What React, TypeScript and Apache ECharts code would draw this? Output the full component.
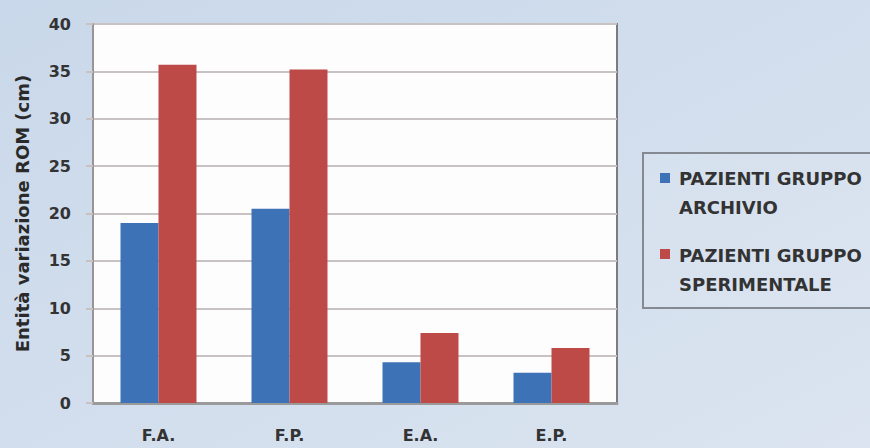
import React, { useEffect, useRef } from "react";
import * as echarts from "echarts";

const categories = ["F.A.", "F.P.", "E.A.", "E.P."];
const seriesNames = ["PAZIENTI GRUPPO ARCHIVIO", "PAZIENTI GRUPPO SPERIMENTALE"];
const legendLines = [
  ["PAZIENTI GRUPPO", "ARCHIVIO"],
  ["PAZIENTI GRUPPO", "SPERIMENTALE"],
];
const archivio = [19.0, 20.5, 4.3, 3.2];
const sperimentale = [35.7, 35.2, 7.4, 5.8];
const colors = ["#3d72b6", "#be4a48"];
const yAxisName = "Entità variazione ROM (cm)";

const FONT = "'DejaVu Sans', sans-serif";

export default function App() {
  const ref = useRef<HTMLDivElement>(null);
  useEffect(() => {
    if (!ref.current) return;
    const chart = echarts.init(ref.current, null, { renderer: "svg" });
    const legendGraphics: any[] = [
      {
        type: "rect",
        x: 643,
        y: 153,
        shape: { x: 0, y: 0, width: 260, height: 155 },
        style: { fill: "rgba(255,255,255,0.08)", stroke: "#858a92", lineWidth: 2 },
      },
    ];
    const squareTops = [173, 249];
    const textTops = [164, 241];
    legendLines.forEach((lines, i) => {
      legendGraphics.push({
        type: "rect",
        x: 660,
        y: squareTops[i],
        shape: { x: 0, y: 0, width: 10, height: 10 },
        style: { fill: colors[i] },
      });
      legendGraphics.push({
        type: "text",
        x: 679,
        y: textTops[i],
        style: {
          text: lines.join("\n"),
          font: `bold 18px ${FONT}`,
          lineHeight: 29,
          fill: "#333333",
        },
      });
    });
    chart.setOption({
      animation: false,
      backgroundColor: new echarts.graphic.LinearGradient(0, 0, 1, 1, [
        { offset: 0, color: "#c9d8ea" },
        { offset: 1, color: "#dbe4f0" },
      ]),
      grid: {
        left: 93,
        top: 24,
        right: 253,
        bottom: 45,
        show: true,
        backgroundColor: "#fdfdfe",
        borderColor: "#7a7c80",
        borderWidth: 2,
      },
      xAxis: {
        type: "category",
        data: categories,
        axisLine: { lineStyle: { color: "#9a9a9a", width: 3 } },
        axisTick: { show: false },
        axisLabel: {
          margin: 24,
          color: "#333333",
          fontFamily: FONT,
          fontWeight: "bold",
          fontSize: 16,
        },
      },
      yAxis: {
        type: "value",
        min: 0,
        max: 40,
        interval: 5,
        name: yAxisName,
        nameLocation: "middle",
        nameGap: 62,
        nameTextStyle: {
          color: "#2a2a2a",
          fontFamily: FONT,
          fontWeight: "bold",
          fontSize: 18,
        },
        axisLine: { show: true, lineStyle: { color: "#9a9494", width: 2 } },
        axisTick: { show: true, length: 7, lineStyle: { color: "#c9c0c0", width: 2 } },
        splitLine: { lineStyle: { color: "#c9c2c2", width: 2 } },
        axisLabel: {
          margin: 22,
          color: "#333333",
          fontFamily: FONT,
          fontWeight: "bold",
          fontSize: 16,
        },
      },
      series: [
        {
          name: seriesNames[0],
          type: "bar",
          data: archivio,
          itemStyle: { color: colors[0] },
          barGap: "0%",
          barCategoryGap: "42%",
        },
        {
          name: seriesNames[1],
          type: "bar",
          data: sperimentale,
          itemStyle: { color: colors[1] },
          barGap: "0%",
          barCategoryGap: "42%",
        },
      ],
      graphic: legendGraphics,
    });
    return () => chart.dispose();
  }, []);
  return (
    <div
      ref={ref}
      style={{ position: "fixed", left: 0, top: 0, width: 870, height: 448 }}
    />
  );
}
